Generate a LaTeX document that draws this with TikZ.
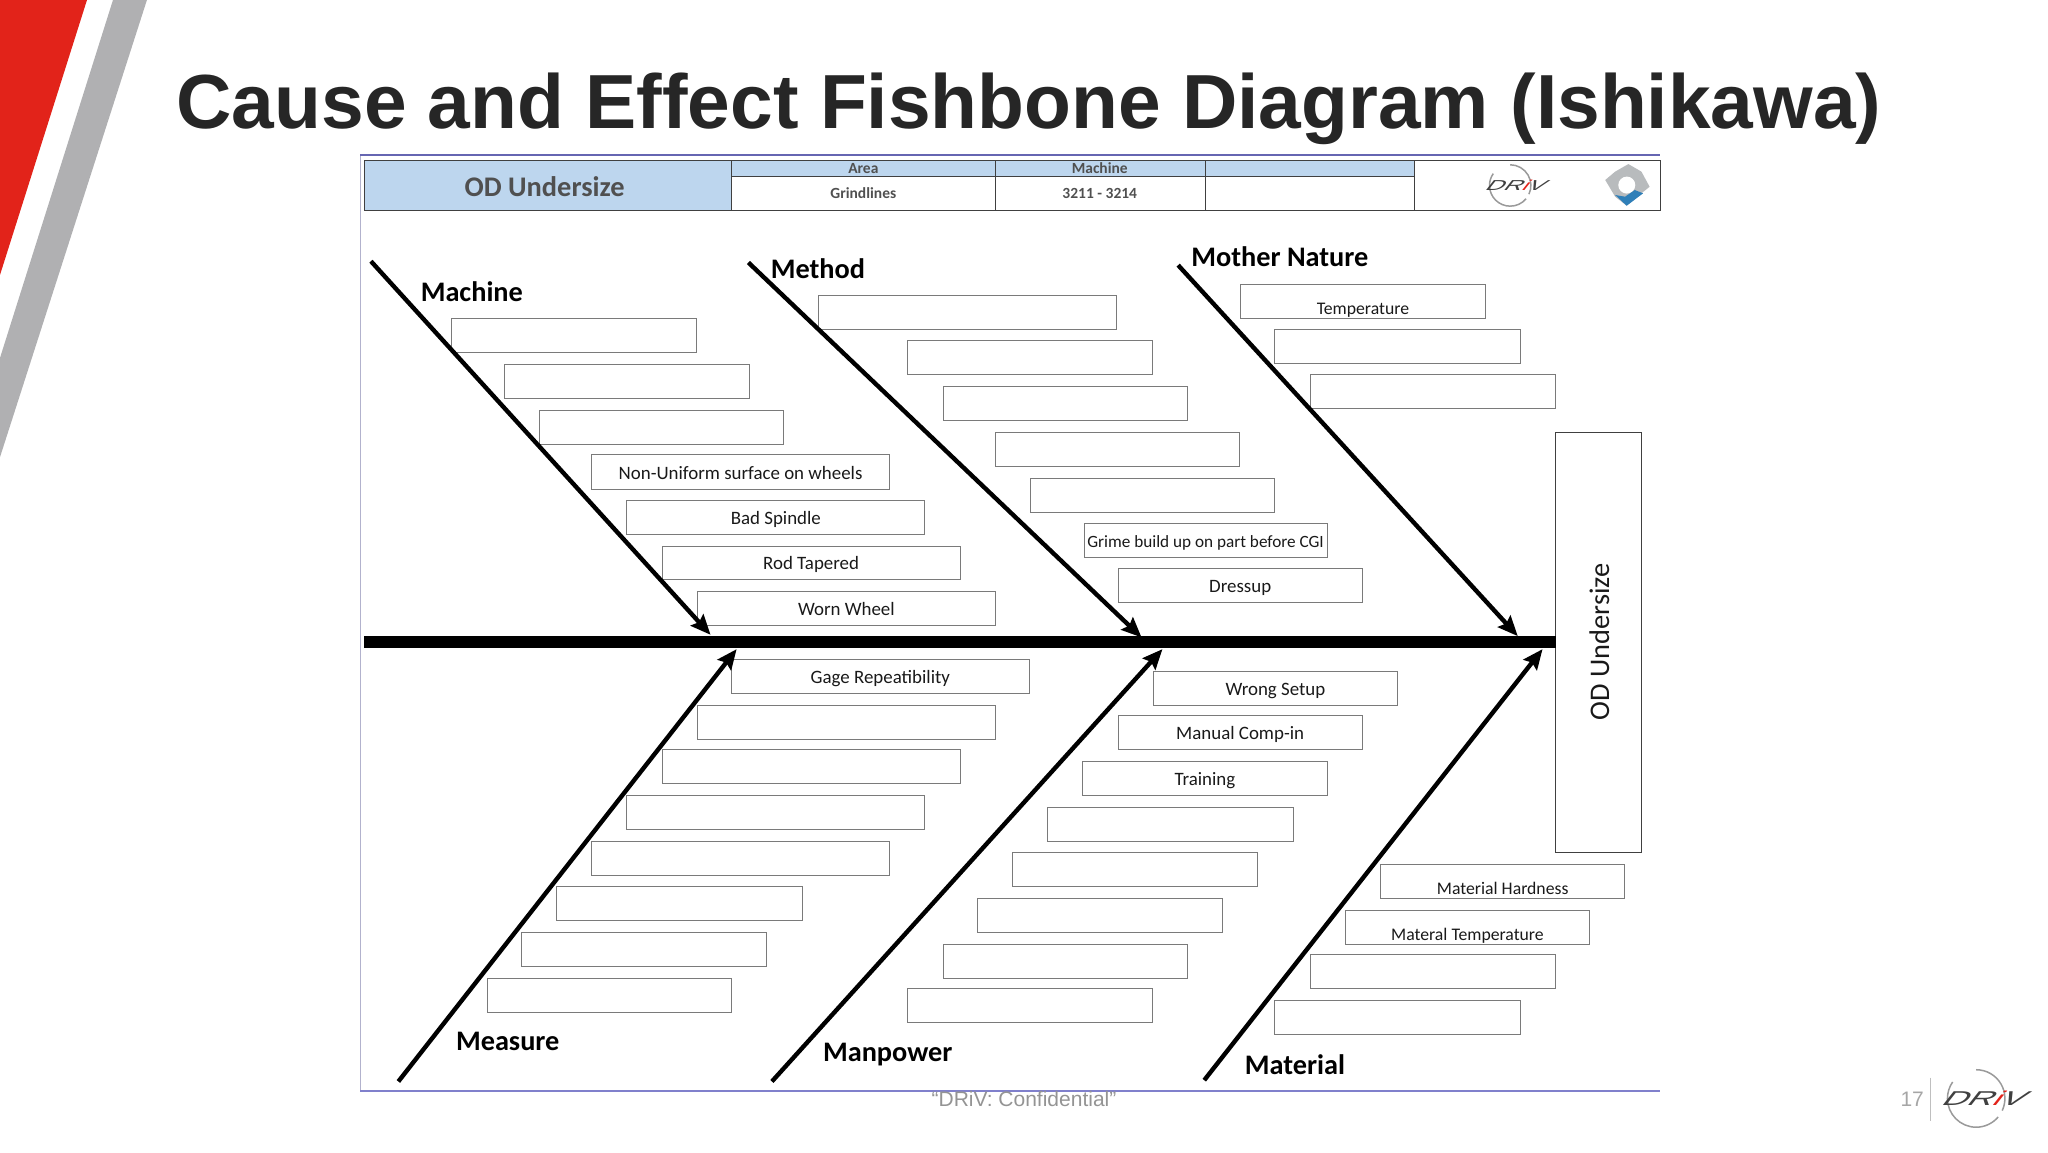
\documentclass[tikz,border=0pt]{standalone}
\usepackage{fontspec}
\setmainfont{Carlito}
\newfontfamily\arialf{Liberation Sans}
\usetikzlibrary{arrows.meta}
\definecolor{titlec}{HTML}{262626}
\definecolor{hdrblue}{HTML}{BDD6EE}
\definecolor{hdrtext}{HTML}{505050}
\definecolor{redbar}{HTML}{E2231A}
\definecolor{greybar}{HTML}{B0B0B2}
\definecolor{logogrey}{HTML}{404040}
\definecolor{logoarc}{HTML}{9A9A9A}
\definecolor{hexgrey}{HTML}{B8BBBD}
\definecolor{hexblue}{HTML}{2F7FB8}
\newcommand{\causebox}[6]{%
  \pgfmathsetmacro{\bw}{(#4-#2)*1.30612}%
  \pgfmathsetmacro{\bh}{(#5-#3)*1.30612}%
  \node[causest,minimum width=\bw pt,minimum height=\bh pt] (#1) at ({(#2+#4)/2},{(#3+#5)/2}) {#6};}
\newcommand{\lowtext}[1]{\raisebox{-6pt}{\fontsize{17.7}{20}\selectfont #1}}
\newcommand{\drivlogo}[4]{%
  \pgfmathsetmacro{\lfs}{#3*20}%
  \begin{scope}[shift={(#1-8*#3,#2)},scale=#3]
  \draw[line width=1.5pt,logoarc] (0,-22) arc[start angle=-90,end angle=25,radius=22];
  \draw[line width=1.5pt,logoarc] (0,22) arc[start angle=90,end angle=215,radius=22];
  \draw[line width=1.5pt,logoarc] (0,22) arc[start angle=90,end angle=40,radius=22];
  \end{scope}
  \node[xscale=#4,xslant=.45,inner sep=0,text=logogrey] at (#1,#2) {\arialf\fontsize{\lfs}{\lfs}\selectfont DR\textcolor{redbar}{i}V};}
\tikzset{
  causest/.style={draw=black!52,line width=.9pt,inner sep=0pt,outer sep=0pt,align=center,font=\fontsize{18.9}{20}\selectfont,text=black!90,text height=15pt,text depth=1pt},
  catlabel/.style={anchor=west,inner sep=0pt,font=\bfseries\fontsize{28.3}{30}\selectfont,text=black},
  bone/.style={line width=4.4pt,-{Stealth[length=20pt,width=17pt,inset=3pt]},shorten >=0pt},
  spine/.style={line width=12pt},
  hdrcell/.style={draw=black!75,line width=1pt},
  hdrsmall/.style={inner sep=0pt,font=\bfseries\fontsize{15.5}{17}\selectfont,text=hdrtext},
  footer/.style={inner sep=0pt,text=black!42,font=\arialf\fontsize{21}{24}\selectfont}
}
\begin{document}
\begin{tikzpicture}[x=1.30612pt,y=-1.30612pt]
\useasboundingbox (0,0) rectangle (1568,882);
% corner bars
\fill[redbar] (0,0) -- (66.6,0) -- (0,210.5) -- cycle;
\fill[greybar] (86.5,0) -- (112.5,0) -- (0,350) -- (0,274) -- cycle;
% title
\node[anchor=west,inner sep=0pt,text=titlec] (title) at (135,83.5) {\arialf\bfseries\fontsize{76.7}{84}\selectfont Cause and Effect Fishbone Diagram (Ishikawa)};
% frame
\draw[color=blue!35!black!30!white,line width=1.2pt] (276,119) -- (276,835);
\draw[color=blue!50!black!60!white,line width=2pt] (276,119) -- (1271,119);
\draw[color=blue!60!black!50!white,line width=2pt] (276,835) -- (1271,835);
% header
\fill[hdrblue] (279,122.5) rectangle (560,161);
\fill[hdrblue] (560,122.5) rectangle (1083,135);
\draw[hdrcell] (279,122.5) rectangle (1271,161);
\draw[hdrcell] (560,135) -- (1083,135);
\draw[hdrcell] (560,122.5) -- (560,161);
\draw[hdrcell] (762,122.5) -- (762,161);
\draw[hdrcell] (923,122.5) -- (923,161);
\draw[hdrcell] (1083,122.5) -- (1083,161);
\node[inner sep=0pt,text=hdrtext,font=\bfseries\fontsize{28.4}{30}\selectfont] (hod) at (417,143) {OD Undersize};
\node[hdrsmall] (harea) at (661,129) {Area};
\node[hdrsmall] (hmach) at (842,129) {Machine};
\node[hdrsmall] (hgrind) at (661,148) {Grindlines};
\node[hdrsmall] (hnum) at (842,148) {3211 - 3214};
\drivlogo{1162}{142}{0.72}{1.75}
\begin{scope}[shift={(2,0)}]
\fill[hexgrey] (1244.7,125.6) -- (1254.7,131.4) -- (1261,143) -- (1254.7,148) -- (1243.4,157.5) -- (1234.6,150.6) -- (1227,137.8) -- (1234.6,131.4) -- cycle;
\fill[white] (1243.5,141.7) circle[radius=6.5];
\fill[hexblue] (1234.6,149.3) -- (1243.4,157.5) -- (1256,148) -- (1249.6,145.5) -- (1242.2,150.6) -- cycle;
\end{scope}
% machine
\causebox{m1}{346}{244}{533}{270}{}
\causebox{m2}{386}{279}{574}{305}{}
\causebox{m3}{413}{314}{600}{340}{}
\causebox{m4}{453}{348}{681}{375}{Non-Uniform surface on wheels}
\causebox{m5}{480}{383}{708}{409}{Bad Spindle}
\causebox{m6}{507}{418}{735}{444}{Rod Tapered}
\causebox{m7}{534}{453}{762}{479}{Worn Wheel}
% method
\causebox{t1}{627}{226}{855}{252}{}
\causebox{t2}{695}{261}{882}{287}{}
\causebox{t3}{722}{296}{909}{322}{}
\causebox{t4}{762}{331}{949}{357}{}
\causebox{t5}{789}{366}{976}{392}{}
\causebox{t6}{830}{401}{1016}{427}{\fontsize{17.2}{20}\selectfont Grime build up on part before CGI}
\causebox{t7}{856}{435}{1043}{461}{Dressup}
% mother nature
\causebox{n1}{950}{218}{1137}{244}{\lowtext{Temperature}}
\causebox{n2}{976}{252}{1164}{278}{}
\causebox{n3}{1003}{287}{1191}{313}{}
% measure
\causebox{g1}{560}{505}{788}{531}{Gage Repeatibility}
\causebox{g2}{534}{540}{762}{566}{}
\causebox{g3}{507}{574}{735}{600}{}
\causebox{g4}{480}{609}{708}{635}{}
\causebox{g5}{453}{644}{681}{670}{}
\causebox{g6}{426}{679}{614}{705}{}
\causebox{g7}{399}{714}{587}{740}{}
\causebox{g8}{373}{749}{560}{775}{}
% manpower
\causebox{p1}{883}{514}{1070}{540}{Wrong Setup}
\causebox{p2}{856}{548}{1043}{574}{Manual Comp-in}
\causebox{p3}{829}{583}{1016}{609}{Training}
\causebox{p4}{802}{618}{990}{644}{}
\causebox{p5}{775}{653}{963}{679}{}
\causebox{p6}{748}{688}{936}{714}{}
\causebox{p7}{722}{723}{909}{749}{}
\causebox{p8}{695}{757}{882}{783}{}
% material
\causebox{r1}{1057}{662}{1244}{688}{\lowtext{Material Hardness}}
\causebox{r2}{1030}{697}{1217}{723}{\lowtext{Materal Temperature}}
\causebox{r3}{1003}{731}{1191}{757}{}
\causebox{r4}{976}{766}{1164}{792}{}
% effect box
\causebox{effect}{1191}{331}{1257}{653}{}
\draw[draw=black!75,line width=1.1pt] (effect.south west) rectangle (effect.north east);
\node[rotate=90,inner sep=0pt,font=\fontsize{28.4}{30}\selectfont,text=black!90] (efflabel) at (1224.5,491.5) {OD Undersize};
% spine
\coordinate (tail) at (279,491.5);
\draw[spine] (tail) -- (effect.west |- tail);
% bones
\coordinate (a1) at (284,200); \coordinate (a1e) at (544,486);
\coordinate (a2) at (573,201); \coordinate (a2e) at (874,488);
\coordinate (a3) at (902,203); \coordinate (a3e) at (1162,487);
\coordinate (b1) at (305,828); \coordinate (b1e) at (564,497);
\coordinate (b2) at (591,828); \coordinate (b2e) at (890,497);
\coordinate (b3) at (922,827); \coordinate (b3e) at (1181,497);
\draw[bone] (a1) -- (a1e);
\draw[bone] (a2) -- (a2e);
\draw[bone] (a3) -- (a3e);
\draw[bone] (b1) -- (b1e);
\draw[bone] (b2) -- (b2e);
\draw[bone] (b3) -- (b3e);
% category labels
\node[catlabel] (lmachine) at (322,223.5) {Machine};
\node[catlabel] (lmethod) at (590,205.5) {Method};
\node[catlabel] (lmother) at (912,196.5) {Mother Nature};
\node[catlabel] (lmeasure) at (349,797.5) {Measure};
\node[catlabel] (lmanpower) at (630,807) {Manpower};
\node[catlabel] (lmaterial) at (953,815.5) {Material};
% footer
\node[footer] (conf) at (784,841.5) {“DRiV: Confidential”};
\node[footer,text=black!35] (pagenum) at (1464,841.5) {17};
\coordinate (sep1) at (1478,825); \coordinate (sep2) at (1478,858);
\draw[black!25,line width=1pt] (sep1) -- (sep2);
\drivlogo{1521}{841}{1}{1.75}
\end{tikzpicture}
\end{document}
